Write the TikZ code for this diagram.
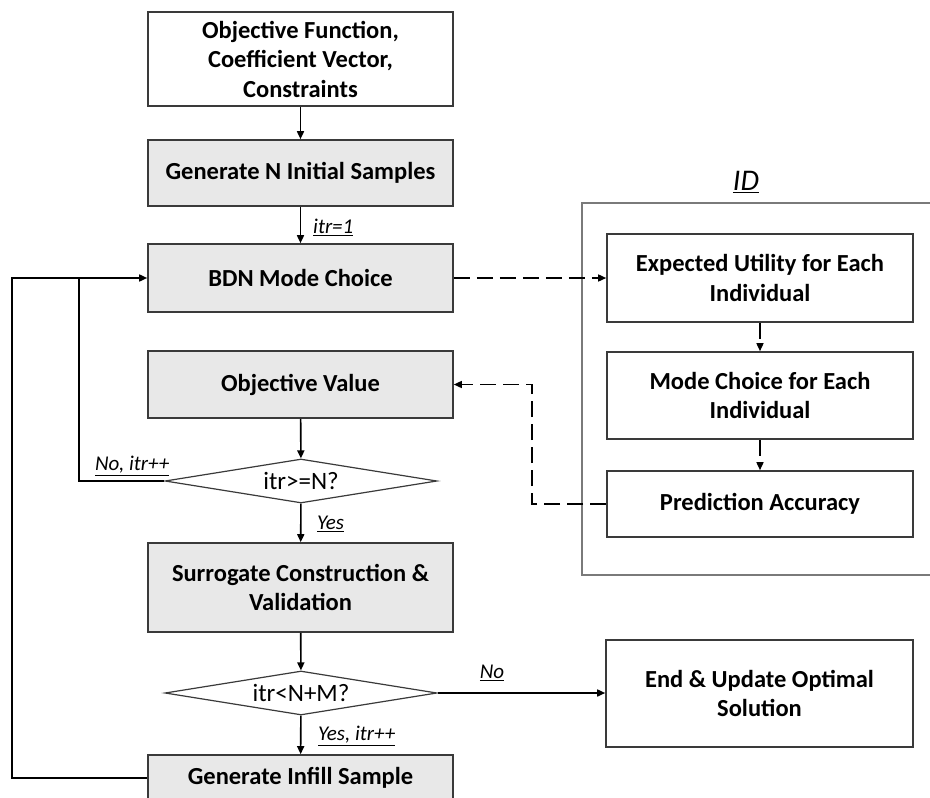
\documentclass[tikz,border=0pt]{standalone}
\usepackage{fontspec}
\setmainfont{Carlito}
\usetikzlibrary{shapes.geometric,arrows.meta}
\definecolor{boxfill}{HTML}{E8E8E8}
\definecolor{boxline}{HTML}{3A3A3A}
\definecolor{idline}{HTML}{7A7A7A}
\tikzset{
  box/.style={draw=boxline, line width=1.6pt, minimum width=305pt, inner sep=0pt, align=center,
    font=\fontsize{24.5}{29.5}\selectfont\bfseries},
  graybox/.style={box, fill=boxfill},
  whitebox/.style={box, fill=white},
  decision/.style={diamond, draw=boxline, line width=1.2pt, minimum width=272pt, minimum height=44pt,
    inner sep=0pt, shape aspect=6, fill=white, font=\fontsize{25}{30}\selectfont},
  flow/.style={line width=1.6pt, -{Triangle[length=8pt,width=7pt]}},
  feed/.style={line width=2pt},
  dflow/.style={line width=1.5pt, dash pattern=on 16pt off 7pt, -{Triangle[length=8pt,width=7pt]}},
  lbl/.style={font=\fontsize{21}{25}\selectfont\itshape, inner sep=0pt}
}
\begin{document}
\begin{tikzpicture}[x=1pt,y=-1pt]
\clip (0,0) rectangle (930,798);
\fill[white] (0,0) rectangle (930,798);
% main column
\node[whitebox, minimum height=94pt] (obj) at (300.5,59) {Objective Function,\\Coefficient Vector,\\Constraints};
\node[graybox, minimum height=66pt] (gen) at (300.5,173) {Generate N Initial Samples};
\node[graybox, minimum height=68pt] (bdn) at (300.5,278) {BDN Mode Choice};
\node[graybox, minimum height=67pt] (ov) at (300.5,384.5) {Objective Value};
\node[decision] (d1) at (301,481) {itr>=N?};
\node[graybox, minimum height=89pt] (sur) at (300.5,587.5) {Surrogate Construction \&\\Validation};
\node[decision] (d2) at (301,693) {itr<N+M?};
\node[graybox, minimum height=46pt] (inf) at (300.5,778) {Generate Infill Sample};
% ID container
\draw[idline, line width=1.3pt] (935,203) -- (582,203) -- (582,575) -- (935,575);
\node[font=\fontsize{30}{34}\selectfont\itshape, inner sep=0pt] (idl) at (746,182) {\underline{ID}};
\node[whitebox, minimum width=306pt, minimum height=88pt] (eu) at (760,278) {Expected Utility for Each\\Individual};
\node[whitebox, minimum width=306pt, minimum height=87pt] (mc) at (760,395.5) {Mode Choice for Each\\Individual};
\node[whitebox, minimum width=306pt, minimum height=66pt] (pa) at (760,504) {Prediction Accuracy};
\node[whitebox, minimum width=307pt, minimum height=107pt] (end) at (759.5,693.5) {End \& Update Optimal\\Solution};
% connectors main
\draw[flow] (obj) -- (gen);
\draw[flow] (gen) -- (bdn);
\draw[flow] (ov) -- (d1);
\draw[flow] (d1) -- (sur);
\draw[flow] (sur) -- (d2);
\draw[flow] (d2) -- (inf);
\draw[flow] (d2.east) -- (end.west |- d2.east);
% feedback loops
\coordinate (c1) at (79,481);
\coordinate (c2) at (79,278);
\coordinate (c3) at (12,778);
\coordinate (c4) at (12,278);
\draw[feed] (d1.west) -- (c1) -- (c2);
\draw[feed] (inf.west) -- (c3) -- (c4) -- (c2);
\draw[flow] (c2) -- (bdn.west);
% dashed ID connectors
\draw[dflow] (bdn.east) -- (eu.west);
\draw[dflow] (eu) -- (mc);
\draw[dflow] (mc) -- (pa);
\coordinate (p1) at (532,504);
\coordinate (p2) at (532,384.5);
\draw[dflow] (pa.west) -- (p1) -- (p2) -- (ov.east);
% labels
\node[lbl, anchor=west] (l1) at (313,227) {\underline{itr=1}};
\node[lbl, anchor=west] (l2) at (95,466) {\underline{No, itr++}};
\node[lbl, anchor=west] (l3) at (317,524) {\underline{Yes}};
\node[lbl, anchor=west] (l4) at (318,736) {\underline{Yes, itr++}};
\node[lbl] (l5) at (492,673) {\underline{No}};
\end{tikzpicture}
\end{document}
